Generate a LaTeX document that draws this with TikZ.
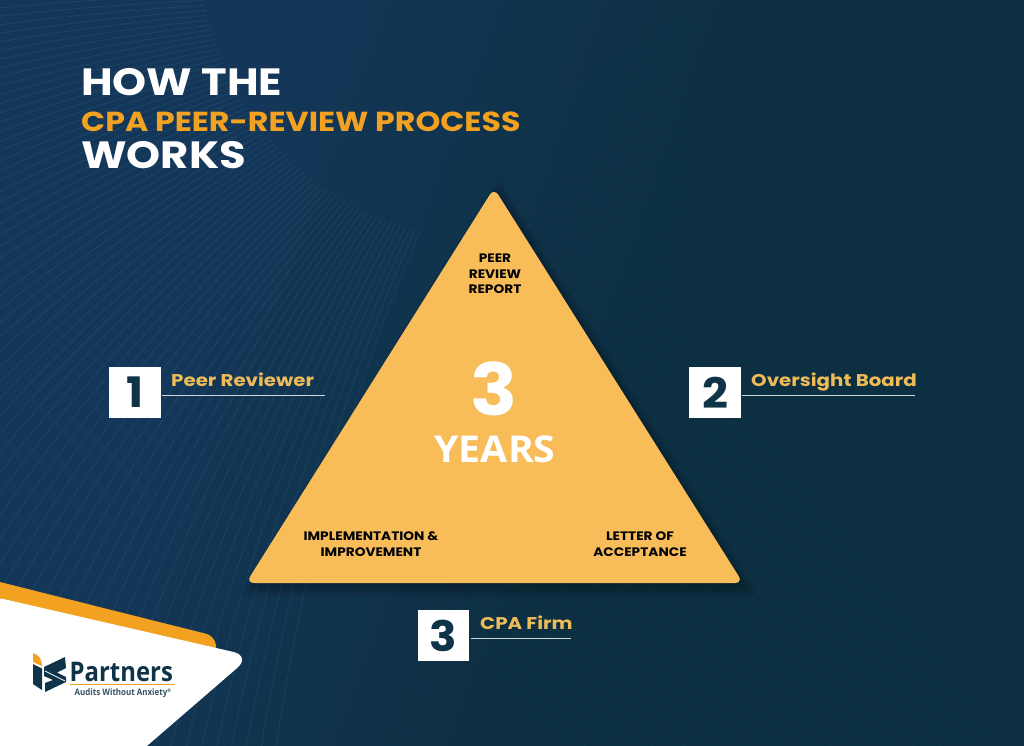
\documentclass[tikz,border=0pt]{standalone}
\usepackage{fontspec}
\setmainfont{Poppins}
\newfontfamily\titlefont{Poppins}[FakeStretch=1.14]
\newfontfamily\subfont{Poppins}[FakeStretch=1.15]
\newfontfamily\labelfont{Poppins}[FakeStretch=1.165]
\newfontfamily\trifont{Poppins}[FakeStretch=1.115]
\newfontfamily\numfont{Poppins}[FakeStretch=1.08]
\newfontfamily\yearsfont{Open Sans}[FakeStretch=1.06]
\newfontfamily\logofont{Open Sans}[FakeStretch=0.885]
\usetikzlibrary{calc}
\definecolor{navyA}{HTML}{143759}
\definecolor{navyB}{HTML}{0C2F42}
\definecolor{gold}{HTML}{F8BC58}
\definecolor{amber}{HTML}{F3A121}
\definecolor{labelgold}{HTML}{EDBB57}
\definecolor{numcol}{HTML}{0F3347}
\definecolor{streak}{HTML}{3F8494}
\pgfdeclarehorizontalshading{bgshade}{100bp}{color(0bp)=(navyA); color(33bp)=(navyA); color(55bp)=(navyB); color(100bp)=(navyB)}
\tikzset{
  title/.style={anchor=base west,inner sep=0,font=\titlefont\fontsize{38}{38}\selectfont\bfseries,text=white},
  subtitle/.style={anchor=base west,inner sep=0,font=\subfont\fontsize{27.5}{28}\selectfont\bfseries,text=amber},
  numbox/.style={fill=white,minimum width=51.5pt,minimum height=51.5pt,inner sep=0,text=numcol,font=\numfont\fontsize{42}{42}\selectfont\bfseries},
  steplabel/.style={anchor=base west,inner sep=0,font=\labelfont\fontsize{17}{17}\selectfont\bfseries,text=labelgold},
  rule/.style={draw=white!80!numcol,line width=0.8pt},
  tritext/.style={align=center,inner sep=0,font=\trifont\fontsize{12.3}{15.5}\selectfont\bfseries,text=black!92!numcol},
  faint/.style={draw=streak,line width=0.55pt},
}
\begin{document}
\begin{tikzpicture}[x=1pt,y=-1pt]
\useasboundingbox (0,0) rectangle (1024,745);
% background
\shade[shading=bgshade,shading angle=-20] (0,0) rectangle (1024,745);
\begin{scope}
\clip (0,0) rectangle (1024,745);
% left family converging towards the fingerprint core
\foreach \a in {4,5,...,76}{
  \coordinate (fs) at ($(490,-50)+({-950*cos(\a)},{950*sin(\a)})$);
  \coordinate (fe) at ($(490,-50)+({-290*cos(\a)},{290*sin(\a)})$);
  \draw[faint,opacity=0.25] (fs) .. controls ($(fs)!0.33!(fe)+(-28,-28)$) and ($(fs)!0.66!(fe)+(-28,-28)$) .. (fe);
}
% right family, upper
\foreach \i in {0,...,27}{
  \coordinate (ue) at ({700-\i*0.6-12*abs(sin(\i*14))},{12+\i*13});
  \draw[faint,opacity=0.08] ($(ue)+(-230,150)$) .. controls ($(ue)+(-140,84)$) and ($(ue)+(-60,30)$) .. (ue);
}
% right family, lower
\foreach \i in {0,...,24}{
  \coordinate (le) at ({748+\i*10.2},{410+\i*13});
  \draw[faint,opacity=0.09] ($(le)+(-300,205)$) .. controls ($(le)+(-190,150)$) and ($(le)+(-80,70)$) .. (le);
}
\end{scope}
% title
\node[title] (t1) at (81,95) {HOW THE};
\node[subtitle] (t2) at (81,131) {CPA PEER-REVIEW PROCESS};
\node[title] (t3) at (81,168) {WORKS};
% triangle shadow
\foreach \d/\o in {16/0.05,12/0.06,8/0.07,4/0.08}{
  \fill[black,opacity=\o,rounded corners=8pt] ({494+4},{190+3-\d}) -- ({740+4+\d},{583+4+\d*0.6}) -- ({249+4-\d},{583+4+\d*0.6}) -- cycle;
}
% triangle
\fill[gold,rounded corners=8pt] (494,188) -- (743,583) -- (246,583) -- cycle;
\node[tritext] (n1) at (495,274) {PEER\\REVIEW\\REPORT};
\node[anchor=base,inner sep=0,font=\numfont\fontsize{72}{72}\selectfont\bfseries,text=white] (big) at (494,415) {3};
\node[anchor=base,inner sep=0,font=\yearsfont\fontsize{37}{37}\selectfont\bfseries,text=white] (yrs) at (495,462) {YEARS};
\node[tritext] (n2) at (371,544) {IMPLEMENTATION \&\\IMPROVEMENT};
\node[tritext] (n3) at (640,544) {LETTER OF\\ACCEPTANCE};
% steps
\node[numbox] (b1) at (134.75,392.5) {1};
\coordinate (r1a) at (162,395.5); \coordinate (r1b) at (325,395.5);
\draw[rule] (r1a) -- (r1b);
\node[steplabel] (l1) at (171,386) {Peer Reviewer};
\node[numbox] (b2) at (715,392.5) {2};
\coordinate (r2a) at (742,395.5); \coordinate (r2b) at (915,395.5);
\draw[rule] (r2a) -- (r2b);
\node[steplabel] (l2) at (751,386) {Oversight Board};
\node[numbox] (b3) at (443.5,635.5) {3};
\coordinate (r3a) at (471,638.5); \coordinate (r3b) at (571,638.5);
\draw[rule] (r3a) -- (r3b);
\node[steplabel] (l3) at (480,629) {CPA Firm};
% corner panel
\fill[amber,rounded corners=9pt] (-10,579.5) -- (215,636) -- (218,665) -- (-10,665) -- cycle;
\fill[white,rounded corners=18pt] (-14,595) -- (251,656) -- (96,790) -- (-14,790) -- cycle;
% logo mark
\fill[amber] (33,653) .. controls (39,655) and (42,659) .. (42,666) -- (33,662) -- cycle;
\fill[numcol] (33,664) -- (42,668.5) -- (42,690) -- (33,684) -- cycle;
\fill[numcol] (44,667) -- (65,657) -- (66,668) -- (57,672.5) -- (66,677) -- (66,682) -- (45,692) -- (45,683) -- (53,680) -- (44,676) -- cycle;
\draw[white,line width=0.7pt] (45,671) -- (65,681);
\node[anchor=base west,inner sep=0,font=\logofont\fontsize{27}{27}\selectfont\bfseries,text=numcol] (lg) at (69.5,681) {Partners};
\coordinate (lga) at (70,684.5); \coordinate (lgb) at (175,684.5);
\draw[amber,line width=1pt] (lga) -- (lgb);
\node[anchor=base west,inner sep=0,font=\logofont\fontsize{9}{9}\selectfont\bfseries,text=numcol!85!white] (ls) at (74.5,695) {Audits Without Anxiety\raisebox{2.5pt}{\fontsize{5}{5}\selectfont ®}};
\end{tikzpicture}
\end{document}
